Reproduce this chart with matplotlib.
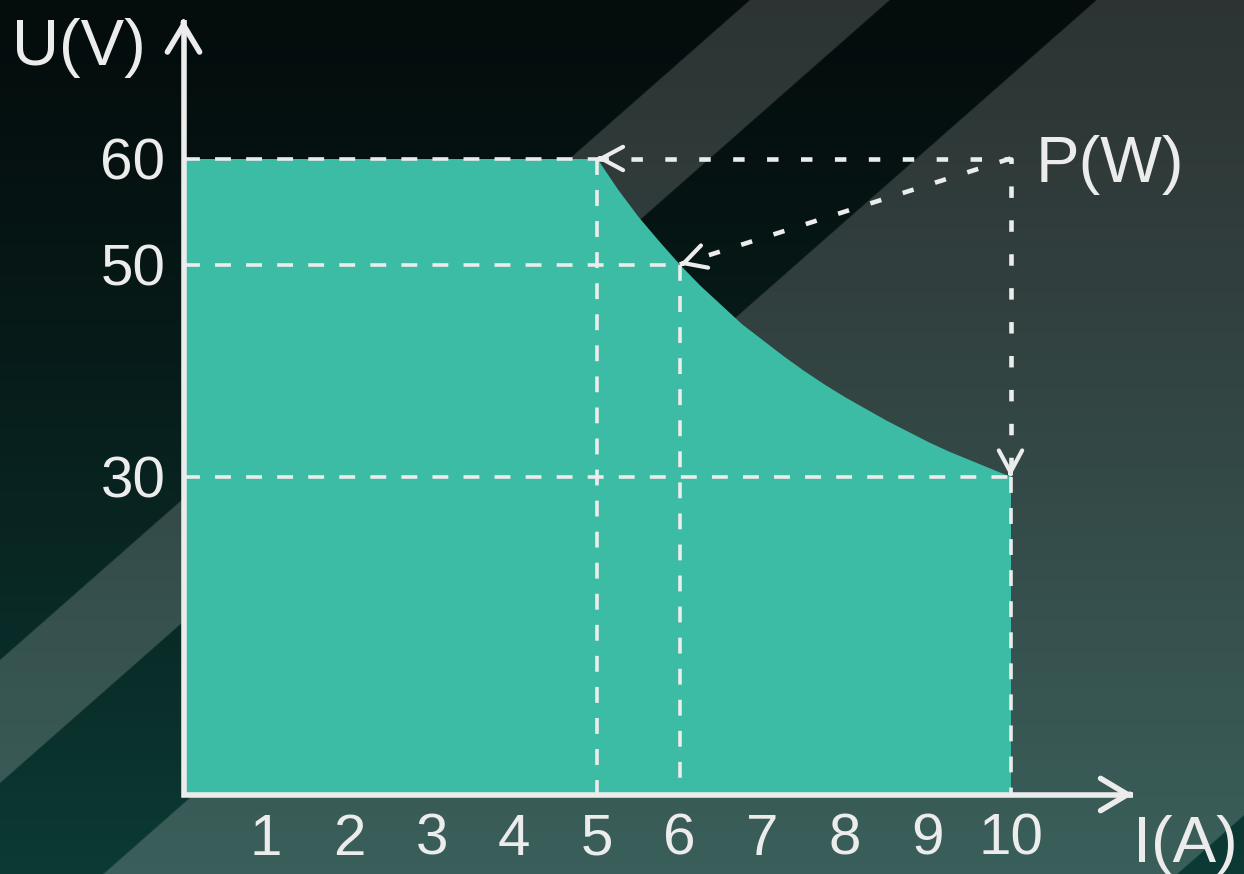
import numpy as np
import matplotlib
matplotlib.use("Agg")
import matplotlib.pyplot as plt

# ---------------- data ----------------
current_ticks = [1, 2, 3, 4, 5, 6, 7, 8, 9, 10]          # I (A)
voltage_ticks = [30, 50, 60]                              # U (V)
# operating envelope: constant voltage up to 5 A, then constant-power curve
curve_I = [0, 5, 5.25, 5.5, 5.75, 6, 6.25, 6.5, 6.75, 7, 7.25, 7.5, 7.75,
           8, 8.25, 8.5, 8.75, 9, 9.25, 9.5, 9.75, 10]
curve_U = [60, 60, 57.1, 54.5, 52.2, 50, 48.0, 46.2, 44.4, 42.9, 41.4, 40.0, 38.7,
           37.5, 36.4, 35.3, 34.3, 33.3, 32.4, 31.6, 30.8, 30]
marked_I = [5, 6, 10]
marked_U = [60, 50, 30]
power_corner = (10, 60)        # where the P(W) arrows start
x_label, y_label, p_label = "I(A)", "U(V)", "P(W)"

# ---------------- layout ----------------
W, H = 1244, 874
DPI = 100
ox, oy = 183.5, 794.5          # origin in pixels (from top-left)
sx, sy = 82.7, 10.6            # pixels per unit
x_axis_end, y_axis_end = 11.48, 73.1

FILL = "#3cbca5"
WHITE = "#ececec"
FONT = ["Liberation Sans", "DejaVu Sans"]
plt.rcParams["font.family"] = FONT

fig = plt.figure(figsize=(W / DPI, H / DPI), dpi=DPI)

# ---------------- background ----------------
bg = fig.add_axes([0, 0, 1, 1], zorder=0)
yy, xx = np.mgrid[0:H, 0:W] + 0.5
tt = yy / H
t = tt ** 1.2
top = np.array([4, 12, 12], float)
bot = np.array([12, 58, 52], float)
base = top + (bot - top) * t[..., None]
d = 0.88 * xx + yy


def band(v, lo, hi, w=2.0):
    a = np.clip((v - lo) / w + 0.5, 0, 1)
    b = np.clip((hi - v) / w + 0.5, 0, 1)
    return a * b


light = np.clip(band(d, 660, 783) + band(d, 965, 1910), 0, 1)
alpha = (0.163 + 0.027 * tt) * light
img = base * (1 - alpha[..., None]) + 255 * alpha[..., None]
bg.imshow(img / 255.0, extent=[0, W, H, 0], aspect="auto", interpolation="bilinear")
bg.set_xlim(0, W)
bg.set_ylim(H, 0)
bg.axis("off")

# ---------------- main axes ----------------
ax = fig.add_axes([ox / W, (H - oy) / H, (W - ox) / W, oy / H], zorder=1)
ax.set_xlim(0, (W - ox) / sx)
ax.set_ylim(0, oy / sy)
ax.patch.set_alpha(0)
for s in ax.spines.values():
    s.set_visible(False)

ax.fill_between(curve_I, 0, curve_U, color=FILL, lw=0, zorder=1)

# dashed reference lines
dash_kw = dict(color=WHITE, lw=2.6, dashes=(4.4, 4.2), zorder=3, clip_on=False)
for i, u in zip(marked_I, marked_U):
    ax.plot([0, i], [u, u], **dash_kw)
    ax.plot([i, i], [u, 0], **dash_kw)

# dotted power arrows
dot_kw = dict(color=WHITE, lw=3.3, dashes=(2.5, 4.9), zorder=4, clip_on=False)
cx, cy = power_corner
ax.plot([marked_I[0], cx, cx], [marked_U[0], cy, marked_U[2] + 0.6], **dot_kw)
ax.plot([cx, marked_I[1]], [cy, marked_U[1]], **dot_kw)


def head(tip, frm, hl, hw, lw):
    p1 = ax.transData.transform(tip)
    p0 = ax.transData.transform(frm)
    v = p0 - p1
    v = v / np.hypot(*v)
    off = v * 3.0 * 72.0 / DPI
    ax.annotate("", xy=tip, xytext=(off[0], off[1]), textcoords="offset points",
                arrowprops=dict(arrowstyle=f"->,head_length={hl},head_width={hw}",
                                lw=lw, color=WHITE, shrinkA=0, shrinkB=0,
                                mutation_scale=20),
                annotation_clip=False, zorder=5)


for i, u in zip(marked_I, marked_U):
    head((i, u), power_corner, 0.78, 0.42, 3.0)

# axes with arrows
ax.plot([0, 0, x_axis_end], [y_axis_end, 0, 0], color=WHITE, lw=4,
        solid_joinstyle="miter", solid_capstyle="butt", zorder=6, clip_on=False)
head((0, y_axis_end), (0, 0), 0.97, 0.58, 4)
head((x_axis_end, 0), (0, 0), 0.97, 0.58, 4)

# ticks
ax.set_xticks(current_ticks)
ax.set_xticklabels([str(v) for v in current_ticks])
ax.set_yticks(voltage_ticks)
ax.set_yticklabels([str(v) for v in voltage_ticks])
ax.tick_params(axis="both", length=0, labelsize=42, labelcolor=WHITE)
ax.tick_params(axis="x", pad=13)
ax.tick_params(axis="y", pad=13)

# axis titles
fig.text(12 / W, 1 - 65 / H, y_label, ha="left", va="baseline", fontsize=47, color=WHITE)
fig.text(1036 / W, 1 - 182 / H, p_label, ha="left", va="baseline", fontsize=47, color=WHITE)
fig.text(1133 / W, 1 - 862 / H, x_label, ha="left", va="baseline", fontsize=47, color=WHITE)

fig.savefig("out.png", dpi=DPI)
